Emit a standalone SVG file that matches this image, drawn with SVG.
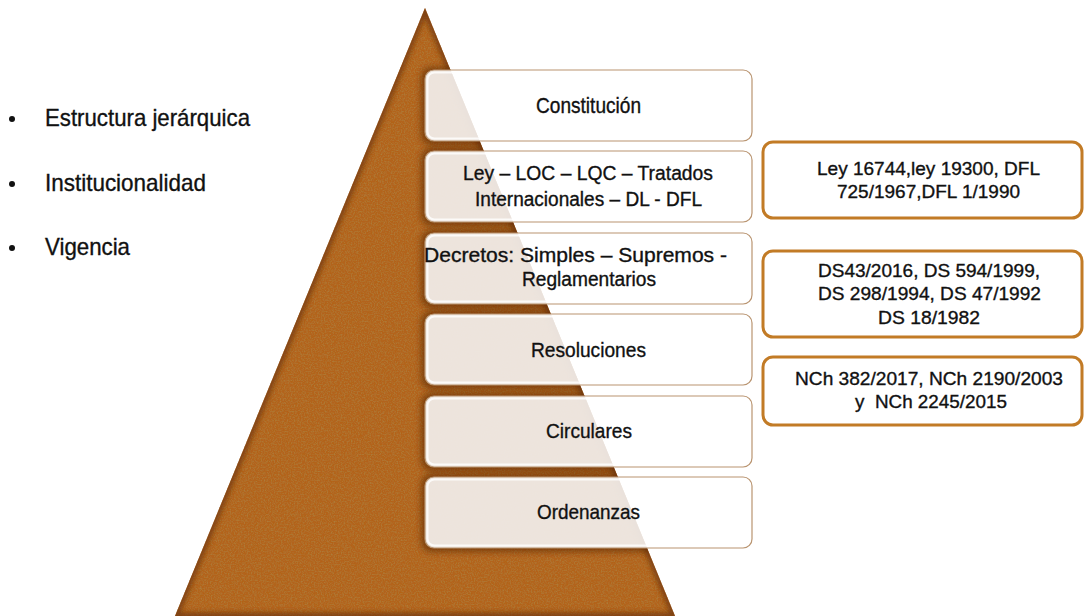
<svg xmlns="http://www.w3.org/2000/svg" width="1084" height="616" viewBox="0 0 1084 616">
<defs>
<style>
.t{font-family:"Liberation Sans",Arial,sans-serif;fill:#111;stroke:#111;stroke-width:0.35;text-anchor:middle;}
.lt{font-size:24px;text-anchor:start;}
.b22{font-size:22px;}
.b21{font-size:21px;}
.b20{font-size:20px;}
.rt{font-size:19px;}
.box{fill:#fff;fill-opacity:0.86;stroke:#b99470;stroke-width:1.2;}
.hl{fill:none;stroke:#fff;stroke-width:2;stroke-opacity:0.8;}
.rbox{fill:#fff;stroke:#c27b26;stroke-width:3;}
.sh{fill:#5a2a06;opacity:0.6;}
</style>
<clipPath id="pyr"><path d="M425,8 L675,616 L175,616 Z"/></clipPath>
<filter id="tex" x="0" y="0" width="1" height="1">
<feTurbulence type="fractalNoise" baseFrequency="0.7" numOctaves="3" seed="3" result="n"/>
<feColorMatrix in="n" type="matrix" values="0 0 0 0 0.42  0 0 0 0 0.2  0 0 0 0 0.04  0 0 0 2.2 -0.9" result="d"/>
<feComposite in="d" in2="SourceGraphic" operator="in" result="dd"/>
<feMerge><feMergeNode in="SourceGraphic"/><feMergeNode in="dd"/></feMerge>
</filter>
<filter id="blur" x="-10%" y="-20%" width="120%" height="140%"><feGaussianBlur stdDeviation="3"/></filter>
<filter id="eb" x="-5%" y="-5%" width="110%" height="110%"><feGaussianBlur stdDeviation="2.5"/></filter>
</defs>
<rect width="1084" height="616" fill="#fff"/>

<g id="pyramid">
<path d="M425,8 L675,616 L175,616 Z" fill="#b3641e" filter="url(#tex)"/>
<g clip-path="url(#pyr)">
<path d="M425,8 L675,616 L175,616 Z" fill="none" stroke="#6e340b" stroke-width="7" filter="url(#eb)" opacity="0.75"/>
<g filter="url(#blur)">
<rect class="sh" x="421" y="67" width="335" height="78" rx="10"/>
<rect class="sh" x="421" y="148" width="335" height="78" rx="10"/>
<rect class="sh" x="421" y="230" width="335" height="78" rx="10"/>
<rect class="sh" x="421" y="311" width="335" height="78" rx="10"/>
<rect class="sh" x="421" y="393" width="335" height="78" rx="10"/>
<rect class="sh" x="421" y="474" width="335" height="78" rx="10"/>
</g>
</g>
</g>

<g id="bullets">
<circle cx="12" cy="119" r="3" fill="#111"/>
<text class="t lt" x="45" y="126" textLength="205" lengthAdjust="spacingAndGlyphs">Estructura jerárquica</text>
<circle cx="12" cy="184" r="3" fill="#111"/>
<text class="t lt" x="45" y="191" textLength="161" lengthAdjust="spacingAndGlyphs">Institucionalidad</text>
<circle cx="12" cy="248" r="3" fill="#111"/>
<text class="t lt" x="45" y="255" textLength="85" lengthAdjust="spacingAndGlyphs">Vigencia</text>
</g>

<g id="n-constitucion">
<rect class="box" x="425" y="70" width="327" height="71" rx="9"/>
<rect class="hl" x="427.5" y="72.5" width="322" height="66" rx="7"/>
<text class="t b22" x="588.5" y="113" textLength="105" lengthAdjust="spacingAndGlyphs">Constitución</text>
</g>
<g id="n-ley">
<rect class="box" x="425" y="151" width="327" height="71" rx="9"/>
<rect class="hl" x="427.5" y="153.5" width="322" height="66" rx="7"/>
<text class="t b20" x="588" y="180" textLength="250" lengthAdjust="spacingAndGlyphs">Ley – LOC – LQC – Tratados</text>
<text class="t b20" x="588.5" y="206" textLength="227" lengthAdjust="spacingAndGlyphs">Internacionales – DL - DFL</text>
</g>
<g id="n-decretos">
<rect class="box" x="425" y="233" width="327" height="71" rx="9"/>
<rect class="hl" x="427.5" y="235.5" width="322" height="66" rx="7"/>
<text class="t b20" x="575.5" y="262" textLength="303" lengthAdjust="spacingAndGlyphs">Decretos: Simples – Supremos -</text>
<text class="t b20" x="589" y="286" textLength="134" lengthAdjust="spacingAndGlyphs">Reglamentarios</text>
</g>
<g id="n-resoluciones">
<rect class="box" x="425" y="314" width="327" height="71" rx="9"/>
<rect class="hl" x="427.5" y="316.5" width="322" height="66" rx="7"/>
<text class="t b21" x="588.5" y="357" textLength="115" lengthAdjust="spacingAndGlyphs">Resoluciones</text>
</g>
<g id="n-circulares">
<rect class="box" x="425" y="396" width="327" height="71" rx="9"/>
<rect class="hl" x="427.5" y="398.5" width="322" height="66" rx="7"/>
<text class="t b21" x="589" y="438" textLength="86" lengthAdjust="spacingAndGlyphs">Circulares</text>
</g>
<g id="n-ordenanzas">
<rect class="box" x="425" y="477" width="327" height="71" rx="9"/>
<rect class="hl" x="427.5" y="479.5" width="322" height="66" rx="7"/>
<text class="t b21" x="588.5" y="519" textLength="103" lengthAdjust="spacingAndGlyphs">Ordenanzas</text>
</g>

<g id="n-leyes">
<rect class="rbox" x="763" y="142" width="319" height="76" rx="10"/>
<text class="t rt" x="928.5" y="175" textLength="223" lengthAdjust="spacingAndGlyphs">Ley 16744,ley 19300, DFL</text>
<text class="t rt" x="928.5" y="198" textLength="183" lengthAdjust="spacingAndGlyphs">725/1967,DFL 1/1990</text>
</g>
<g id="n-ds">
<rect class="rbox" x="763" y="251" width="319" height="86" rx="10"/>
<text class="t rt" x="929" y="277" textLength="222" lengthAdjust="spacingAndGlyphs">DS43/2016, DS 594/1999,</text>
<text class="t rt" x="929.5" y="300" textLength="223" lengthAdjust="spacingAndGlyphs">DS 298/1994, DS 47/1992</text>
<text class="t rt" x="929" y="324" textLength="102" lengthAdjust="spacingAndGlyphs">DS 18/1982</text>
</g>
<g id="n-nch">
<rect class="rbox" x="763" y="357" width="319" height="68" rx="10"/>
<text class="t rt" x="929" y="385" textLength="268" lengthAdjust="spacingAndGlyphs">NCh 382/2017, NCh 2190/2003</text>
<text class="t rt" x="931" y="408" textLength="152" lengthAdjust="spacingAndGlyphs" xml:space="preserve">y  NCh 2245/2015</text>
</g>
<g id="connectors"/>
</svg>
